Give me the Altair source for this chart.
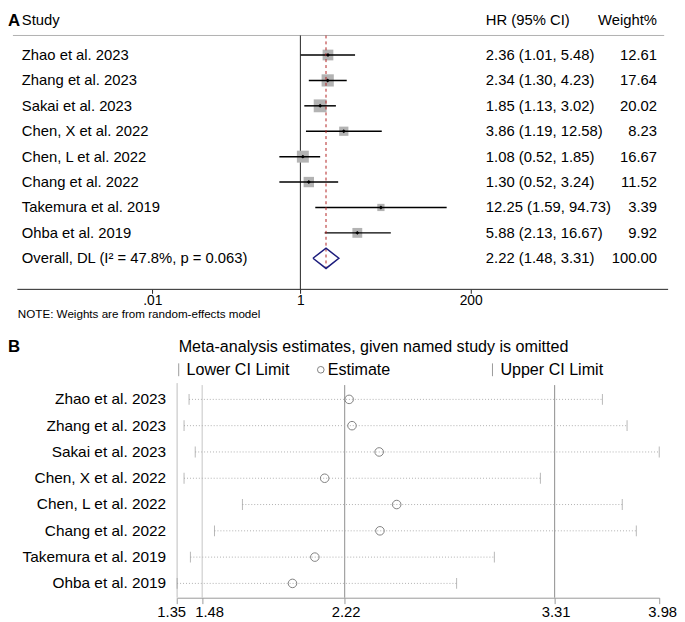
import altair as alt
import pandas as pd

# ---------------- Panel A: forest plot data ----------------
studies = ["Zhao et al. 2023", "Zhang et al. 2023", "Sakai et al. 2023",
           "Chen, X et al. 2022", "Chen, L et al. 2022", "Chang et al. 2022",
           "Takemura et al. 2019", "Ohba et al. 2019"]
hr = [2.36, 2.34, 1.85, 3.86, 1.08, 1.30, 12.25, 5.88]
hr_lo = [1.01, 1.30, 1.13, 1.19, 0.52, 0.52, 1.59, 2.13]
hr_hi = [5.48, 4.23, 3.02, 12.58, 1.85, 3.24, 94.73, 16.67]
weights = [12.61, 17.64, 20.02, 8.23, 16.67, 11.52, 3.39, 9.92]
overall_label = "Overall, DL (I² = 47.8%, p = 0.063)"
overall_hr = 2.22
overall_lo = 1.48
overall_hi = 3.31
overall_weight = 100.00
note_text = "NOTE: Weights are from random-effects model"
a_ticks = [0.01, 1, 200]
a_tick_labels = [".01", "1", "200"]
null_value = [1]

# ---------------- Panel B: leave-one-out data ----------------
b_title = "Meta-analysis estimates, given named study is omitted"
omit_est = [2.243, 2.258, 2.399, 2.116, 2.490, 2.403, 2.065, 1.949]
omit_lo = [1.412, 1.386, 1.444, 1.386, 1.689, 1.544, 1.419, 1.350]
omit_hi = [3.558, 3.686, 3.853, 3.236, 3.661, 3.734, 2.997, 2.801]
b_ticks = [1.35, 1.48, 2.22, 3.31, 3.853]
b_tick_labels = ["1.35", "1.48", "2.22", "3.31", "3.98"]
legend_labels = ["Lower CI Limit", "Estimate", "Upper CI Limit"]

FONT = "Liberation Sans"


def label_expr(ticks, labels):
    expr = "''"
    for t, l in reversed(list(zip(ticks, labels))):
        expr = f"abs(datum.value - {t}) < 1e-6 ? '{l}' : {expr}"
    return expr


def text_item(text, x, y, align="left", size=15, weight="normal", color="#000",
              baseline="middle"):
    return alt.Chart(pd.DataFrame({"t": [text]})).mark_text(
        align=align, baseline=baseline, font=FONT, fontSize=size,
        fontWeight=weight, color=color
    ).encode(x=alt.value(x), y=alt.value(y), text="t:N")


# ================= Panel A =================
WA, HA = 669, 280
rows_a = pd.DataFrame({
    "study": studies + [overall_label],
    "row": list(range(1, len(studies) + 2)),
    "hr": hr + [overall_hr],
    "lo": hr_lo + [overall_lo],
    "hi": hr_hi + [overall_hi],
    "weight": weights + [overall_weight],
})
rows_a["ci_text"] = [f"{h:.2f} ({l:.2f}, {u:.2f})" for h, l, u in
                     zip(rows_a["hr"], rows_a["lo"], rows_a["hi"])]
rows_a["w_text"] = [f"{w:.2f}" for w in rows_a["weight"]]
study_rows = rows_a.iloc[:-1]

orow = len(studies) + 1
dh = 0.40
diamond = pd.DataFrame({
    "x": [overall_lo, overall_hr, overall_hi, overall_hr, overall_lo],
    "row": [orow, orow - dh, orow, orow + dh, orow],
    "k": [0, 1, 2, 3, 4],
})

xa = alt.Scale(type="log", domain=[a_ticks[0], a_ticks[-1]], range=[146.3, 468.9], nice=False)
ya = alt.Scale(domain=[0, 10], range=[16.75, 274.25], nice=False, zero=False)
axis_a = alt.Axis(values=a_ticks, labelExpr=label_expr(a_ticks, a_tick_labels),
                  domain=False, grid=False, ticks=True, tickColor="#222",
                  tickSize=4, labelFont=FONT, labelFontSize=14, labelColor="#000",
                  labelPadding=0, title=None, labelFlush=False, labelOverlap=False)


def XA(field):
    return alt.X(field, scale=xa, axis=axis_a)


YA = alt.Y("row:Q", scale=ya, axis=None)

header_rule = alt.Chart(pd.DataFrame({"v": [0]})).mark_rule(
    color="#b0b0b0", strokeWidth=1).encode(x=alt.value(5), x2=alt.value(665), y=alt.value(22.7))
axis_line = alt.Chart(pd.DataFrame({"v": [0]})).mark_rule(
    color="#222", strokeWidth=1).encode(x=alt.value(9.5), x2=alt.value(669), y=alt.value(HA))
null_line = alt.Chart(pd.DataFrame({"v": null_value})).mark_rule(
    color="#222", strokeWidth=1).encode(x=XA("v:Q"), y=alt.value(22.7), y2=alt.value(HA))
squares = alt.Chart(study_rows).mark_square(color="#b3b3b3", opacity=1).encode(
    x=XA("hr:Q"), y=YA,
    size=alt.Size("weight:Q", scale=alt.Scale(domain=[0, 20], range=[30, 170]), legend=None))
ci = alt.Chart(study_rows).mark_rule(color="#000", strokeWidth=1.5).encode(
    x=XA("lo:Q"), x2="hi:Q", y=YA)
dots = alt.Chart(study_rows).mark_point(shape="diamond", filled=True, color="#000",
                                        size=16, opacity=1).encode(x=XA("hr:Q"), y=YA)
overall_line = alt.Chart(pd.DataFrame({"v": [overall_hr]})).mark_rule(
    color="#b22222", strokeDash=[3, 3], strokeWidth=1).encode(
    x=XA("v:Q"), y=alt.value(22.7), y2=alt.value(258))
dia = alt.Chart(diamond).mark_line(color="#1c1c7c", strokeWidth=1.5).encode(
    x=XA("x:Q"), y=alt.Y("row:Q", scale=ya, axis=None), order="k:Q")
t_study = alt.Chart(rows_a).mark_text(align="left", baseline="middle", font=FONT,
                                      fontSize=15, color="#000").encode(
    x=alt.value(14), y=YA, text="study:N")
t_ci = alt.Chart(rows_a).mark_text(align="left", baseline="middle", font=FONT,
                                   fontSize=15, color="#000").encode(
    x=alt.value(484.3), y=YA, text="ci_text:N")
t_w = alt.Chart(rows_a).mark_text(align="right", baseline="middle", font=FONT,
                                  fontSize=15, color="#000").encode(
    x=alt.value(657.7), y=YA, text="w_text:N")

panel_a = alt.layer(
    header_rule, axis_line, null_line, squares, ci, overall_line, dots, dia,
    t_study, t_ci, t_w,
    text_item("A", 0, 0, size=17, weight="bold", baseline="top"),
    text_item("Study", 14, 0, baseline="top"),
    text_item("HR (95% CI)", 484.3, 0, baseline="top"),
    text_item("Weight%", 657.7, 0, align="right", baseline="top"),
    text_item(note_text, 10, 305.5, size=11.8),
).properties(width=WA, height=HA)

# ================= Panel B =================
WB, HB = 669, 217.5
rows_b = pd.DataFrame({
    "study": studies,
    "row": list(range(len(studies))),
    "est": omit_est, "lo": omit_lo, "hi": omit_hi,
})
xb = alt.Scale(domain=[b_ticks[0], b_ticks[-1]], range=[171.4, 660.0], nice=False, zero=False)
yb = alt.Scale(domain=[0, 7], range=[16.5, 203.0], nice=False, zero=False)
label_offset_b = {
    "condition": [
        {"test": f"abs(datum.value - {b_ticks[0]}) < 1e-6", "value": -6},
        {"test": f"abs(datum.value - {b_ticks[1]}) < 1e-6", "value": 7},
        {"test": f"abs(datum.value - {b_ticks[-1]}) < 1e-6", "value": 3},
    ],
    "value": 1,
}
axis_b = alt.Axis(values=b_ticks, labelExpr=label_expr(b_ticks, b_tick_labels),
                  domain=True, domainColor="#999", grid=False, ticks=True,
                  tickColor="#999", tickSize=6, labelFont=FONT, labelFontSize=15,
                  labelColor="#000", labelPadding=1, title=None,
                  labelOffset=label_offset_b,
                  labelFlush=False, labelOverlap=False)


def XB(field):
    return alt.X(field, scale=xb, axis=axis_b)


YB = alt.Y("row:Q", scale=yb, axis=None)

ref_light = alt.Chart(pd.DataFrame({"v": [overall_lo]})).mark_rule(
    color="#c4c4c4", strokeWidth=1).encode(x=XB("v:Q"), y=alt.value(2), y2=alt.value(HB))
ref_dark = alt.Chart(pd.DataFrame({"v": [overall_hr, overall_hi]})).mark_rule(
    color="#8c8c8c", strokeWidth=1).encode(x=XB("v:Q"), y=alt.value(2), y2=alt.value(HB))
y_axis_line = alt.Chart(pd.DataFrame({"v": [b_ticks[0]]})).mark_rule(
    color="#bdbdbd", strokeWidth=1).encode(x=XB("v:Q"), y=alt.value(0), y2=alt.value(HB))
dotted = alt.Chart(rows_b).mark_rule(color="#b0b0b0", strokeDash=[1, 2], strokeWidth=1).encode(
    x=XB("lo:Q"), x2="hi:Q", y=YB)
cap_lo = alt.Chart(rows_b).mark_tick(orient="vertical", color="#9a9a9a", thickness=1, size=11).encode(
    x=XB("lo:Q"), y=YB)
cap_hi = alt.Chart(rows_b).mark_tick(orient="vertical", color="#9a9a9a", thickness=1, size=11).encode(
    x=XB("hi:Q"), y=YB)
circles = alt.Chart(rows_b).mark_point(shape="circle", filled=False, color="#808080",
                                       size=75, strokeWidth=1, opacity=1).encode(
    x=XB("est:Q"), y=YB)
t_rows_b = alt.Chart(rows_b).mark_text(align="right", baseline="middle", font=FONT,
                                       fontSize=15.6, color="#000").encode(
    x=alt.value(160.3), y=YB, text="study:N")

leg_bars = alt.Chart(pd.DataFrame({"v": [0]})).mark_rule(color="#9a9a9a", strokeWidth=1).encode(
    x=alt.value(173), y=alt.value(-20), y2=alt.value(-7))
leg_bars2 = alt.Chart(pd.DataFrame({"v": [0]})).mark_rule(color="#9a9a9a", strokeWidth=1).encode(
    x=alt.value(491), y=alt.value(-20), y2=alt.value(-7))
leg_circle = alt.Chart(pd.DataFrame({"v": [0]})).mark_point(
    shape="circle", filled=False, color="#808080", size=45, strokeWidth=1, opacity=1).encode(
    x=alt.value(317), y=alt.value(-13.5))

panel_b = alt.layer(
    ref_light, ref_dark, y_axis_line, dotted, cap_lo, cap_hi, circles, t_rows_b,
    leg_bars, leg_bars2, leg_circle,
    text_item("B", 0, -37, size=17, weight="bold"),
    text_item(b_title, 173, -37, size=16.3),
    text_item(legend_labels[0], 181, -13.5, size=16.3),
    text_item(legend_labels[1], 324, -13.5, size=16.3),
    text_item(legend_labels[2], 499, -13.5, size=16.3),
).properties(width=WB, height=HB)

chart = alt.vconcat(panel_a, panel_b, spacing=95, bounds="flush").properties(
    padding=0
).configure(font=FONT).configure_view(strokeWidth=0, stroke="transparent")

chart.save("out.html", embed_options={"renderer": "svg", "actions": False})
